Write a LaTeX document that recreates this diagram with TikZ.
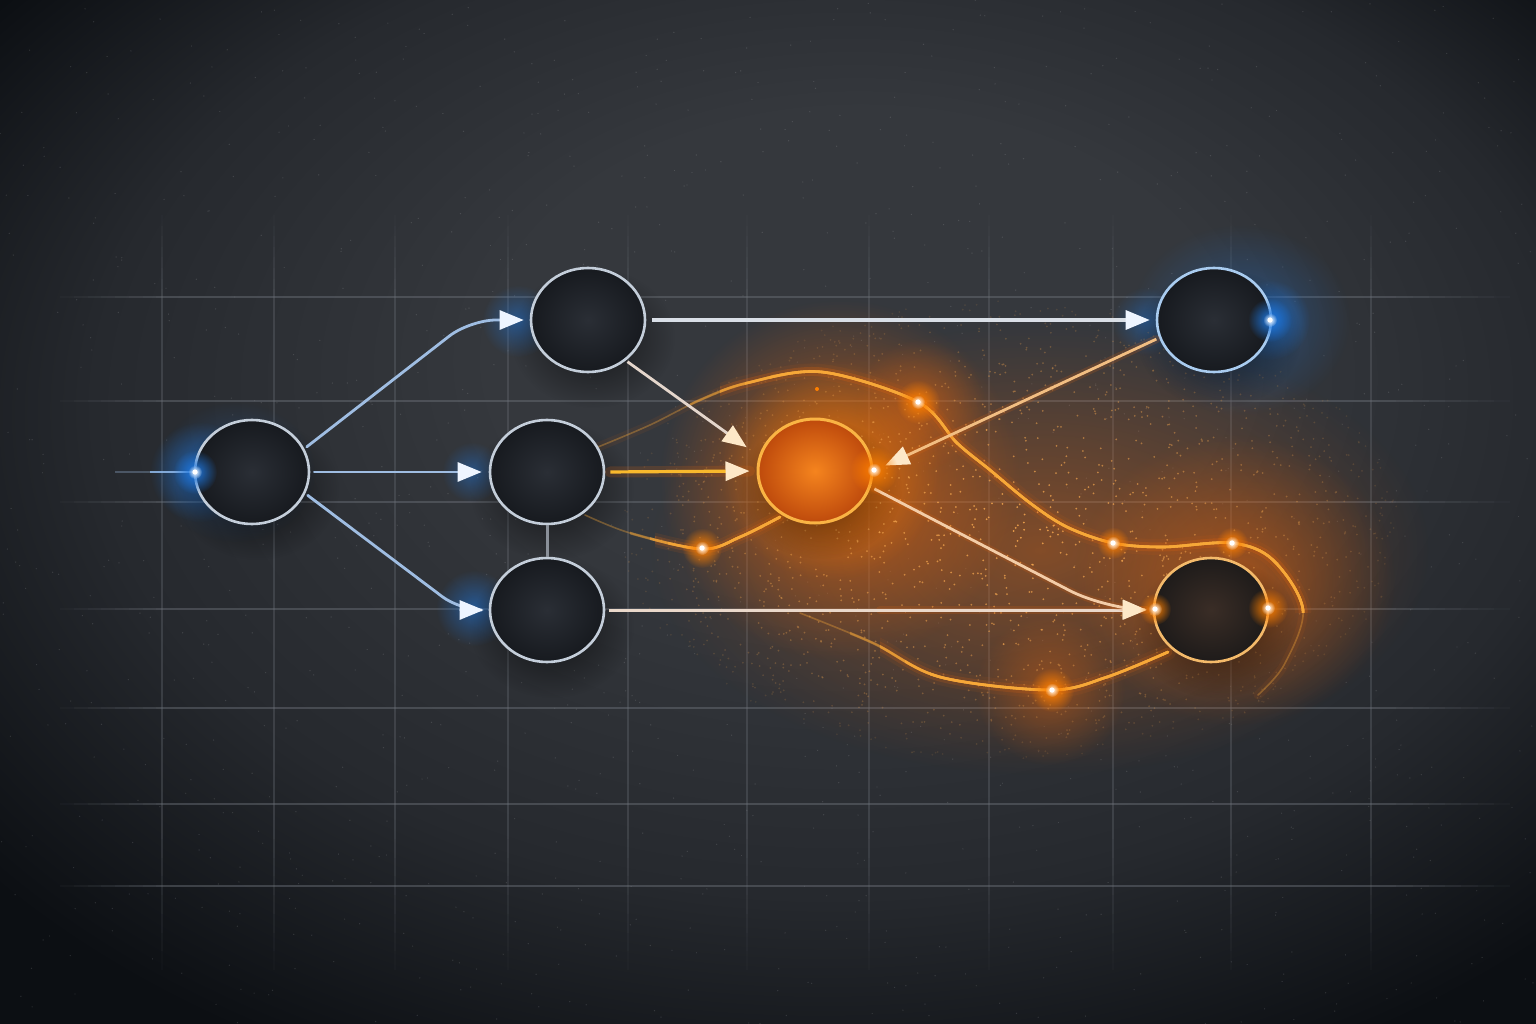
\documentclass[tikz,border=0pt]{standalone}
\usetikzlibrary{arrows.meta,shapes.geometric,fadings}
\definecolor{bgA}{HTML}{35383D}
\definecolor{bgB}{HTML}{26292E}
\definecolor{bgC}{HTML}{0C0F13}
\definecolor{gridc}{HTML}{6E737B}
\definecolor{ringc}{HTML}{C4CEDA}
\definecolor{nodeIn}{HTML}{2A2E35}
\definecolor{nodeOut}{HTML}{171A1F}
\definecolor{bluee}{HTML}{9FBDE2}
\definecolor{blueglow}{HTML}{1F78E0}
\definecolor{tipc}{HTML}{EEF5FF}
\definecolor{orA}{HTML}{F7A838}
\definecolor{orGlow}{HTML}{E2650F}
\definecolor{orDeep}{HTML}{BE4A0C}
\definecolor{orIn}{HTML}{F5841E}
\definecolor{ringE}{HTML}{FAB444}
\definecolor{ringG}{HTML}{F4BA6A}
\definecolor{ringF}{HTML}{A9CCF0}
\definecolor{peach}{HTML}{F3CDA8}
\definecolor{tipo}{HTML}{FDE8C8}
\definecolor{greyw}{HTML}{D9DFE7}
\definecolor{bewarm}{HTML}{E4D6CC}
\definecolor{fewarm}{HTML}{F2BE82}
\definecolor{dgwarm}{HTML}{EAD8CA}
\definecolor{cdline}{HTML}{8A9099}
\definecolor{gIn}{HTML}{3A2D26}
\definecolor{gOut}{HTML}{1E1B1A}
\definecolor{speck}{HTML}{F6A850}
\pgfdeclareradialshading{bgsh}{\pgfpoint{4bp}{10bp}}{color(0bp)=(bgA); color(12bp)=(bgA); color(24bp)=(bgB); color(34bp)=(bgC); color(50bp)=(bgC)}
\tikzfading[name=glowfade, inner color=transparent!0, outer color=transparent!100]
\newcommand\mysparkle[4]{\fill[#4, path fading=glowfade, fill opacity=1] (#1,#2) circle (#3); \fill[white, path fading=glowfade] (#1,#2) circle (7); \fill[white] (#1,#2) circle (2.6);}
\tikzset{
 gfill/.style={path fading=glowfade, fill opacity=#1},
 dnode/.style={ellipse, minimum width=114pt, minimum height=104pt, inner sep=0pt, line width=2.6pt, draw=ringc, inner color=nodeIn, outer color=nodeOut},
 bedge/.style={draw=bluee, line width=2.8pt, line cap=round},
 btip/.style={-{Triangle[length=24pt,width=19pt,color=tipc]}},
 otip/.style={-{Triangle[length=24pt,width=19pt,color=tipo]}},
 ocurve/.style={draw=orA, line width=2.6pt, line cap=round},
 halo/.style={draw=orGlow, line width=#1, opacity=0.18, line cap=round},
}
\newcommand\curveone{plot[smooth, tension=0.55] coordinates {(598,447) (650,425) (700,400) (747,383) (822,372) (918,402) (957,443) (990,470) (1030,503) (1067,527) (1113,543) (1163,547) (1232,543) (1273,560) (1303,610) (1284,665) (1258,695)}}
\newcommand\curvetwo{plot[smooth, tension=0.55] coordinates {(585,515) (630,533) (702,549) (740,537) (780,517)}}
\newcommand\curvethree{plot[smooth, tension=0.55] coordinates {(800,613) (873,643) (940,677) (1050,690) (1107,677) (1168,652)}}
\begin{document}
\begin{tikzpicture}[x=1pt,y=-1pt]
\useasboundingbox (0,0) rectangle (1536,1024);
% background
\shade[shading=bgsh] (0,0) rectangle (1536,1024);
\pgfmathsetseed{7}
\begin{scope}[fill opacity=0.12]
\foreach \i in {1,...,1200}{
  \pgfmathsetmacro\sx{rnd*1536}
  \pgfmathsetmacro\sy{rnd*1024}
  \fill[white] (\sx,\sy) circle (0.7);
}
\end{scope}
% grid
\foreach \gx in {162,274,395,508,628,747,869,989,1113,1231,1371}{
  \fill[gridc, fill opacity=0.32] (\gx-0.7,300) rectangle (\gx+0.7,820);
  \foreach \k in {1,...,8}{
    \pgfmathsetmacro\oo{0.038*\k}
    \pgfmathsetmacro\ya{215+(\k-1)*10.6}
    \pgfmathsetmacro\yb{215+\k*10.6}
    \pgfmathsetmacro\yc{970-\k*18.75}
    \pgfmathsetmacro\yd{970-(\k-1)*18.75}
    \fill[gridc, fill opacity=\oo] (\gx-0.7,\ya) rectangle (\gx+0.7,\yb);
    \fill[gridc, fill opacity=\oo] (\gx-0.7,\yc) rectangle (\gx+0.7,\yd);
  }
}
\foreach \gy in {297,401,502,609,708,804,886}{
  \fill[gridc, fill opacity=0.45] (170,\gy-0.9) rectangle (1380,\gy+0.9);
  \foreach \k in {1,...,8}{
    \pgfmathsetmacro\oo{0.054*\k}
    \pgfmathsetmacro\xa{60+(\k-1)*13.75}
    \pgfmathsetmacro\xb{60+\k*13.75}
    \pgfmathsetmacro\xc{1510-\k*16.25}
    \pgfmathsetmacro\xd{1510-(\k-1)*16.25}
    \fill[gridc, fill opacity=\oo] (\xa,\gy-0.9) rectangle (\xb,\gy+0.9);
    \fill[gridc, fill opacity=\oo] (\xc,\gy-0.9) rectangle (\xd,\gy+0.9);
  }
}
% glows
\fill[orGlow, gfill=0.45] (1040,550) ellipse (390 and 225);
\fill[orGlow, gfill=0.75] (840,480) circle (180);
\fill[orange, gfill=0.6] (830,470) circle (110);
\fill[orGlow, gfill=0.55] (1235,580) ellipse (160 and 145);
\fill[orGlow, gfill=0.45] (1050,690) circle (75);
\fill[orGlow, gfill=0.45] (920,405) circle (65);
\fill[blueglow, gfill=0.40] (1240,320) ellipse (110 and 95);
\fill[blueglow, gfill=0.75] (1270,320) circle (40);
\fill[blueglow, gfill=0.65] (200,472) circle (50);
\fill[blueglow, gfill=0.30] (235,472) ellipse (80 and 70);
\fill[blueglow, gfill=0.50] (518,321) circle (36);
\fill[blueglow, gfill=0.45] (472,472) circle (30);
\fill[blueglow, gfill=0.55] (474,608) circle (38);
\fill[blueglow, gfill=0.40] (1146,321) circle (34);
% orange speckles
\pgfmathsetseed{11}
\foreach \i in {1,...,1800}{
  \pgfmathsetmacro\rr{sqrt(rnd)}
  \pgfmathsetmacro\tt{rnd*360}
  \pgfmathsetmacro\px{1010+390*\rr*cos(\tt)}
  \pgfmathsetmacro\py{530+230*\rr*sin(\tt)}
  \pgfmathsetmacro\op{0.8*(1-\rr)+0.1}
  \fill[speck, fill opacity=\op] (\px,\py) circle (1.0);
}
% shadows
\foreach \nx/\ny in {252/472,588/320,547/472,547/610,815/471,1214/320,1211/610}{
  \fill[black, gfill=0.6] (\nx+5,\ny+18) ellipse (82 and 70);
}
% decorative orange streams
\draw[draw=orGlow, line width=9pt, opacity=0.08, line cap=round] \curveone;
\draw[ocurve, line width=1.6pt, opacity=0.35] \curveone;
\draw[ocurve, line width=1.6pt, opacity=0.35] \curvetwo;
\draw[ocurve, line width=1.6pt, opacity=0.35] \curvethree;
\begin{scope}
  \clip (720,0) rectangle (1400,612);
  \draw[draw=orGlow, line width=16pt, opacity=0.08, line cap=round] \curveone;
  \draw[draw=orGlow, line width=9pt, opacity=0.18, line cap=round] \curveone;
\end{scope}
\foreach \cx/\co in {690/0.45,720/0.6,745/0.8,770/1}{
  \begin{scope}
    \clip (\cx,0) rectangle (1400,612);
    \draw[ocurve, opacity=\co] \curveone;
  \end{scope}
}
\begin{scope}
  \clip (655,0) rectangle (800,1024);
  \draw[draw=orGlow, line width=14pt, opacity=0.1, line cap=round] \curvetwo;
  \draw[draw=orGlow, line width=8pt, opacity=0.2, line cap=round] \curvetwo;
\end{scope}
\foreach \cx/\co in {630/0.45,650/0.6,668/0.8,685/1}{
  \begin{scope}
    \clip (\cx,0) rectangle (800,1024);
    \draw[ocurve, opacity=\co] \curvetwo;
  \end{scope}
}
\begin{scope}
  \clip (880,0) rectangle (1200,1024);
  \draw[draw=orGlow, line width=16pt, opacity=0.08, line cap=round] \curvethree;
  \draw[draw=orGlow, line width=9pt, opacity=0.18, line cap=round] \curvethree;
\end{scope}
\foreach \cx/\co in {850/0.45,880/0.6,905/0.8,930/1}{
  \begin{scope}
    \clip (\cx,0) rectangle (1200,1024);
    \draw[ocurve, opacity=\co] \curvethree;
  \end{scope}
}
% nodes
\node[dnode] (A) at (252,472) {};
\node[dnode] (B) at (588,320) {};
\node[dnode] (C) at (547,472) {};
\node[dnode] (D) at (547,610) {};
\node[dnode, draw=ringF] (F) at (1214,320) {};
\node[dnode, draw=ringG, inner color=gIn, outer color=gOut] (G) at (1211,610) {};
\node[dnode, draw=ringE, line width=3pt, inner color=orIn, outer color=orDeep] (E) at (815,471) {};
% connectors
\coordinate (ain) at (115,472);
\coordinate (ain2) at (150,472);
\coordinate (ab) at (470,320);
\coordinate (ad) at (460,610);
\coordinate (eg) at (1105,609);
\coordinate (dgm) at (880,610);
\draw[bluee, line width=2pt, opacity=0.3] (ain) -- (A.west);
\draw[blueglow!50!white, line width=2.4pt, opacity=0.8] (ain2) -- (A.west);
\draw[bedge, btip, rounded corners=26pt, shorten <=3pt, shorten >=6pt] (A.24) -- (ab) -- (B.west);
\draw[bedge, btip, shorten <=4pt, shorten >=7pt] (A.east) -- (C.west);
\draw[bedge, btip, rounded corners=22pt, shorten <=3pt, shorten >=5pt] (A.-22) -- (ad) -- (D.west);
\draw[draw=cdline, line width=3pt] (C.south) -- (D.north);
\draw[draw=greyw, line width=3.2pt, btip, shorten <=6pt, shorten >=6pt] (B.east) -- (F.west);
\draw[draw=bewarm, line width=2.8pt, otip, shorten <=2pt, shorten >=15pt] (B.-47) -- (E.165);
\draw[halo=11pt, shorten <=5pt, shorten >=7pt] (C.east) -- (E.west);
\draw[draw=orA!80!yellow, line width=3.2pt, otip, shorten <=5pt, shorten >=7pt] (C.east) -- (E.west);
\draw[halo=8pt, shorten <=3pt, shorten >=13pt] (F.-162) -- (E.east);
\draw[draw=fewarm, line width=2.8pt, otip, shorten <=3pt, shorten >=13pt] (F.-162) -- (E.east);
\draw[halo=8pt, shorten >=6pt] (dgm) -- (G.west);
\draw[draw=dgwarm, line width=3pt, otip, shorten <=4pt, shorten >=6pt] (D.east) -- (G.west);
\draw[halo=7pt, rounded corners=40pt, shorten <=4pt, shorten >=6pt] (E.-16) -- (eg) -- (G.west);
\draw[draw=peach, line width=2.8pt, otip, rounded corners=40pt, shorten <=4pt, shorten >=6pt] (E.-16) -- (eg) -- (G.west);
% sparkles
\mysparkle{918}{402}{22}{orange}
\mysparkle{702}{548}{20}{orange}
\mysparkle{1052}{690}{22}{orange}
\mysparkle{1113}{543}{16}{orange}
\mysparkle{1232}{543}{16}{orange}
\mysparkle{874}{470}{24}{orange}
\mysparkle{1155}{609}{16}{orange}
\mysparkle{1268}{608}{20}{orange}
\fill[orange] (817,389) circle (2);
\mysparkle{195}{472}{22}{blueglow}
\mysparkle{1270}{320}{22}{blueglow}
\end{tikzpicture}
\end{document}
